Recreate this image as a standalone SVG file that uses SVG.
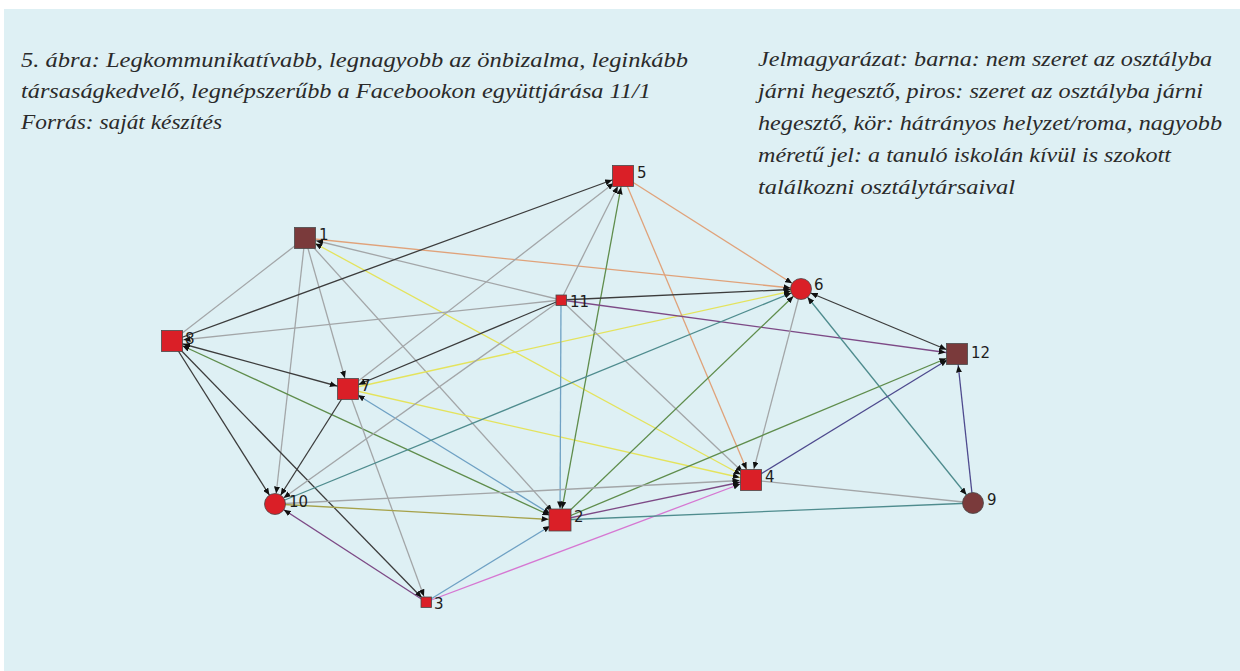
<svg xmlns="http://www.w3.org/2000/svg" width="1240" height="671" viewBox="0 0 1240 671">
<style>
.cap{font-family:"Liberation Serif","DejaVu Serif",serif;font-style:italic;font-size:20px;fill:#2a2a2a}
.lbl{font-family:"DejaVu Sans","Noto Sans",sans-serif;font-size:15px;fill:#1e1e1e}
.red{fill:#da1f27;stroke:#4a4a4a;stroke-width:0.8}
.brn{fill:#7a3a3b;stroke:#4a4a4a;stroke-width:0.8}
#edges line{stroke-width:1.3;fill:none}
.g{stroke:#a3a6a8}.k{stroke:#3c3c3c}.y{stroke:#e4e35c}.o{stroke:#e0a27a}.gr{stroke:#5f8d4c}.t{stroke:#4f8c8e}.b{stroke:#6fa1c4}.p{stroke:#7d4a86}.i{stroke:#4e4a8e}.m{stroke:#d677d2}.ol{stroke:#a6a24a}
</style>
<defs>
<marker id="aB" viewBox="0 0 7 6" refX="18.5" refY="3" markerWidth="7" markerHeight="6" markerUnits="userSpaceOnUse" orient="auto-start-reverse"><path d="M0,0 L7,3 L0,6 z" fill="#111"/></marker>
<marker id="aC" viewBox="0 0 7 6" refX="17.5" refY="3" markerWidth="7" markerHeight="6" markerUnits="userSpaceOnUse" orient="auto-start-reverse"><path d="M0,0 L7,3 L0,6 z" fill="#111"/></marker>
<marker id="aS" viewBox="0 0 7 6" refX="13" refY="3" markerWidth="7" markerHeight="6" markerUnits="userSpaceOnUse" orient="auto-start-reverse"><path d="M0,0 L7,3 L0,6 z" fill="#111"/></marker>
</defs>
<rect x="4" y="9" width="1236" height="662" fill="#def0f4"/>
<g id="caption-left" class="cap">
<text x="21" y="67" textLength="667" lengthAdjust="spacingAndGlyphs">5. ábra: Legkommunikatívabb, legnagyobb az önbizalma, leginkább</text>
<text x="21" y="98" textLength="630" lengthAdjust="spacingAndGlyphs">társaságkedvelő, legnépszerűbb a Facebookon együttjárása 11/1</text>
<text x="21" y="129" textLength="201" lengthAdjust="spacingAndGlyphs">Forrás: saját készítés</text>
</g>
<g id="caption-right" class="cap">
<text x="758" y="66" textLength="454" lengthAdjust="spacingAndGlyphs">Jelmagyarázat: barna: nem szeret az osztályba</text>
<text x="758" y="98" textLength="445" lengthAdjust="spacingAndGlyphs">járni hegesztő, piros: szeret az osztályba járni</text>
<text x="758" y="130" textLength="464" lengthAdjust="spacingAndGlyphs">hegesztő, kör: hátrányos helyzet/roma, nagyobb</text>
<text x="758" y="162" textLength="413" lengthAdjust="spacingAndGlyphs">méretű jel: a tanuló iskolán kívül is szokott</text>
<text x="758" y="194" textLength="257" lengthAdjust="spacingAndGlyphs">találkozni osztálytársaival</text>
</g>
<g id="edges">
<line class="o" x1="305" y1="238" x2="801" y2="289" marker-end="url(#aC)"/>
<line class="g" x1="305" y1="238" x2="172" y2="341"/>
<line class="g" x1="305" y1="238" x2="275" y2="504" marker-end="url(#aC)"/>
<line class="g" x1="305" y1="238" x2="348" y2="389" marker-end="url(#aB)"/>
<line class="g" x1="305" y1="238" x2="560" y2="520" marker-end="url(#aB)"/>
<line class="y" x1="751" y1="480" x2="305" y2="238" marker-start="url(#aB)" marker-end="url(#aB)"/>
<line class="g" x1="561" y1="300" x2="305" y2="238" marker-end="url(#aB)"/>
<line class="k" x1="172" y1="341" x2="623" y2="176" marker-end="url(#aB)"/>
<line class="g" x1="561" y1="300" x2="172" y2="341" marker-end="url(#aB)"/>
<line class="k" x1="172" y1="341" x2="348" y2="389" marker-start="url(#aB)" marker-end="url(#aB)"/>
<line class="gr" x1="172" y1="341" x2="560" y2="520" marker-start="url(#aB)" marker-end="url(#aB)"/>
<line class="k" x1="172" y1="341" x2="275" y2="504" marker-end="url(#aC)"/>
<line class="k" x1="172" y1="341" x2="426" y2="602" marker-end="url(#aS)"/>
<line class="k" x1="561" y1="300" x2="348" y2="389" marker-end="url(#aB)"/>
<line class="g" x1="348" y1="389" x2="623" y2="176" marker-end="url(#aB)"/>
<line class="y" x1="348" y1="389" x2="801" y2="289" marker-end="url(#aC)"/>
<line class="y" x1="348" y1="389" x2="751" y2="480" marker-end="url(#aB)"/>
<line class="b" x1="348" y1="389" x2="560" y2="520" marker-start="url(#aB)" marker-end="url(#aB)"/>
<line class="k" x1="348" y1="389" x2="275" y2="504" marker-end="url(#aC)"/>
<line class="g" x1="348" y1="389" x2="426" y2="602" marker-end="url(#aS)"/>
<line class="g" x1="561" y1="300" x2="623" y2="176" marker-end="url(#aB)"/>
<line class="gr" x1="560" y1="520" x2="623" y2="176" marker-start="url(#aB)" marker-end="url(#aB)"/>
<line class="o" x1="623" y1="176" x2="751" y2="480" marker-end="url(#aB)"/>
<line class="o" x1="623" y1="176" x2="801" y2="289" marker-end="url(#aC)"/>
<line class="k" x1="561" y1="300" x2="801" y2="289" marker-end="url(#aC)"/>
<line class="p" x1="561" y1="300" x2="957" y2="354" marker-end="url(#aB)"/>
<line class="b" x1="561" y1="300" x2="560" y2="520" marker-end="url(#aB)"/>
<line class="g" x1="561" y1="300" x2="275" y2="504" marker-end="url(#aC)"/>
<line class="g" x1="561" y1="300" x2="751" y2="480" marker-end="url(#aB)"/>
<line class="t" x1="275" y1="504" x2="801" y2="289" marker-end="url(#aC)"/>
<line class="gr" x1="560" y1="520" x2="801" y2="289" marker-end="url(#aC)"/>
<line class="g" x1="801" y1="289" x2="751" y2="480" marker-end="url(#aB)"/>
<line class="t" x1="801" y1="289" x2="973" y2="503" marker-start="url(#aC)" marker-end="url(#aC)"/>
<line class="k" x1="801" y1="289" x2="957" y2="354" marker-start="url(#aC)" marker-end="url(#aB)"/>
<line class="gr" x1="560" y1="520" x2="957" y2="354" marker-end="url(#aB)"/>
<line class="i" x1="751" y1="480" x2="957" y2="354" marker-end="url(#aB)"/>
<line class="i" x1="973" y1="503" x2="957" y2="354" marker-end="url(#aB)"/>
<line class="g" x1="275" y1="504" x2="751" y2="480" marker-end="url(#aB)"/>
<line class="p" x1="560" y1="520" x2="751" y2="480" marker-end="url(#aB)"/>
<line class="m" x1="426" y1="602" x2="751" y2="480" marker-end="url(#aB)"/>
<line class="g" x1="751" y1="480" x2="973" y2="503"/>
<line class="t" x1="973" y1="503" x2="560" y2="520"/>
<line class="ol" x1="275" y1="504" x2="560" y2="520" marker-end="url(#aB)"/>
<line class="b" x1="426" y1="602" x2="560" y2="520" marker-end="url(#aB)"/>
<line class="p" x1="426" y1="602" x2="275" y2="504" marker-end="url(#aC)"/>
</g>
<g id="node1"><rect class="brn" x="294.5" y="227.5" width="21" height="21"/><text class="lbl" x="319" y="240">1</text></g>
<g id="node2"><rect class="red" x="549" y="509" width="22" height="22"/><text class="lbl" x="574" y="522">2</text></g>
<g id="node3"><rect class="red" x="421" y="597" width="10.5" height="10.5"/><text class="lbl" x="434" y="609">3</text></g>
<g id="node4"><rect class="red" x="740.5" y="469.5" width="21" height="21"/><text class="lbl" x="765" y="482">4</text></g>
<g id="node5"><rect class="red" x="612.5" y="165.5" width="21" height="21"/><text class="lbl" x="637" y="178">5</text></g>
<g id="node6"><circle class="red" cx="801" cy="289" r="10.5"/><text class="lbl" x="814" y="290">6</text></g>
<g id="node7"><rect class="red" x="337.5" y="378.5" width="21" height="21"/><text class="lbl" x="361" y="391">7</text></g>
<g id="node8"><rect class="red" x="161.5" y="330.5" width="21" height="21"/><text class="lbl" x="185" y="344">8</text></g>
<g id="node9"><circle class="brn" cx="973" cy="503" r="10.5"/><text class="lbl" x="987" y="505">9</text></g>
<g id="node10"><circle class="red" cx="275" cy="504" r="10.5"/><text class="lbl" x="289" y="507">10</text></g>
<g id="node11"><rect class="red" x="556" y="295" width="10.5" height="10.5"/><text class="lbl" x="570" y="307">11</text></g>
<g id="node12"><rect class="brn" x="946.5" y="343.5" width="21" height="21"/><text class="lbl" x="971" y="358">12</text></g>
</svg>
